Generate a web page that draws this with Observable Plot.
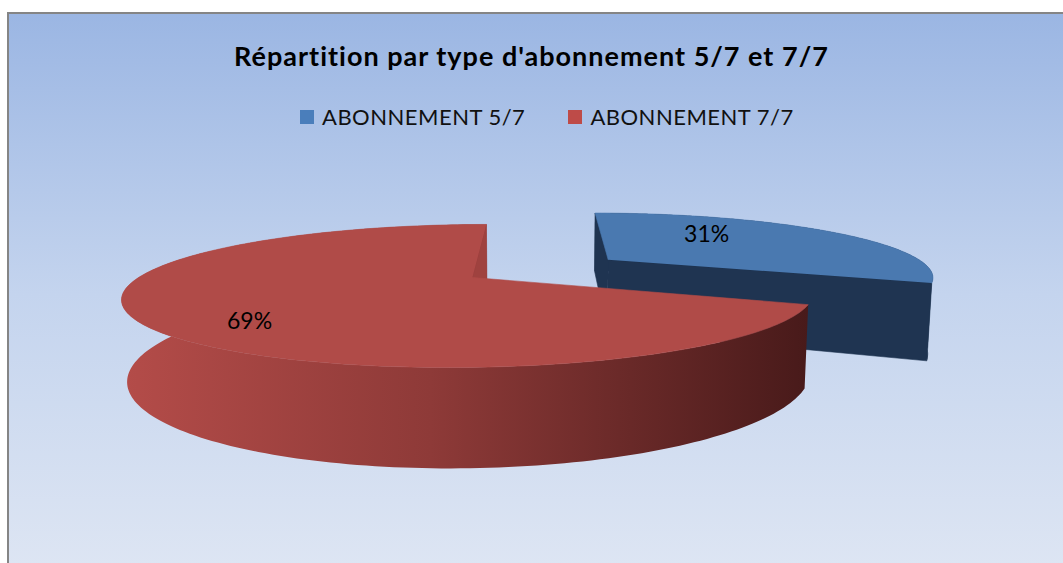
<!DOCTYPE html>
<html>
<head>
<meta charset="utf-8">
<script src="https://cdn.jsdelivr.net/npm/d3@7"></script>
<script src="https://cdn.jsdelivr.net/npm/@observablehq/plot@0.6"></script>
<style>
  html, body { margin: 0; padding: 0; background: #ffffff; width: 1063px; height: 563px; overflow: hidden; }
  #frame { position: absolute; left: 7px; top: 12px; width: 1100px; height: 600px;
    border-left: 2px solid #858585; border-top: 2px solid #858585;
    background: linear-gradient(to bottom, #9bb6e3 0px, #c4d4ee 280px, #dde5f3 551px); }
  #title { position: absolute; left: 0; top: 39px; width: 1063px; text-align: center;
    font-family: Lato, "Open Sans", sans-serif; font-weight: bold; font-size: 27px; letter-spacing: 1px; color: #000; white-space: nowrap; }
  #legend { position: absolute; left: 300px; top: 103px; display: flex; align-items: center;
    font-family: Lato, "Open Sans", sans-serif; font-size: 22px; letter-spacing: 0.5px; color: #111; white-space: nowrap; }
  .item { display: flex; align-items: center; }
  .sw { width: 14px; height: 14px; margin-right: 8px; }
  #plot { position: absolute; left: 0; top: 140px; }
</style>
</head>
<body>
<div id="frame"></div>
<div id="title"></div>
<div id="legend"></div>
<div id="plot"></div>
<script>
// ---- data ----
const title = "Répartition par type d'abonnement 5/7 et 7/7";
const categories = ["ABONNEMENT 5/7", "ABONNEMENT 7/7"];
const values = [31, 69];
const labels = ["31%", "69%"];

// ---- styles ----
const topColors = ["#4a79b0", "#b04b48"];
const sideColors = ["#1f3451", "url(#redSide)"];
const cutColors = ["#1f3451", "#9f423f"];
const legendColors = ["#4a7ebb", "#be4b48"];
const explode = [0.51, 0];
const labelRadius = [0.42, 0.70];
const labelDy = [-12, 15];

// ---- 3D view (perspective) ----
const view = {px: 540, py: 277, f: 1265, D: 3.79, s: 0.2, a: 0.204, h: 0.236};
view.c = Math.sqrt(1 - view.s * view.s);
function project(X, Y, Z) {
  const vy = Y * view.s + Z * view.c;
  const vz = Y * view.c - Z * view.s + view.D;
  return [view.px + view.f * (X - view.a) / vz, view.py - view.f * vy / vz];
}
const camera = [view.a, -view.D * view.c, view.D * view.s];

const total = d3.sum(values);
let acc = 0;
const slices = values.map((v, i) => {
  const t0 = acc / total * 2 * Math.PI; acc += v;
  const t1 = acc / total * 2 * Math.PI;
  const m = (t0 + t1) / 2;
  return {i, t0, t1, m, ox: explode[i] * Math.sin(m), oy: explode[i] * Math.cos(m)};
});
const rim = (s, t, Z) => project(s.ox + Math.sin(t), s.oy + Math.cos(t), Z);
const arc = (s, Z) => d3.range(201).map(k => rim(s, s.t0 + (s.t1 - s.t0) * k / 200, Z));
function cutFace(s, t, sign) {
  const nx = sign * Math.cos(t), ny = -sign * Math.sin(t);
  const vis = nx * (camera[0] - s.ox) + ny * (camera[1] - s.oy) > 0;
  const pts = [project(s.ox, s.oy, 0), rim(s, t, 0), rim(s, t, -view.h), project(s.ox, s.oy, -view.h)];
  return {vis, pts};
}
// far slices first
const order = slices.slice().sort((A, B) => {
  const dA = Math.hypot(A.ox + 0.5 * Math.sin(A.m) - camera[0], A.oy + 0.5 * Math.cos(A.m) - camera[1]);
  const dB = Math.hypot(B.ox + 0.5 * Math.sin(B.m) - camera[0], B.oy + 0.5 * Math.cos(B.m) - camera[1]);
  return dB - dA;
});

const faceMarks = [];
for (const s of order) {
  const side = arc(s, 0).concat(arc(s, -view.h).reverse());
  faceMarks.push(Plot.line(side, {x: d => d[0], y: d => d[1], fill: sideColors[s.i], stroke: "none", curve: "linear"}));
  for (const cf of [cutFace(s, s.t0, -1), cutFace(s, s.t1, 1)]) {
    if (cf.vis) faceMarks.push(Plot.line(cf.pts, {x: d => d[0], y: d => d[1], fill: cutColors[s.i], stroke: cutColors[s.i], strokeWidth: 0.6, curve: "linear"}));
  }
  const top = [project(s.ox, s.oy, 0)].concat(arc(s, 0));
  faceMarks.push(Plot.line(top, {x: d => d[0], y: d => d[1], fill: topColors[s.i], stroke: topColors[s.i], strokeWidth: 0.6, curve: "linear"}));
}

const labelData = slices.map(s => {
  const r = labelRadius[s.i];
  const p = project(s.ox + r * Math.sin(s.m), s.oy + r * Math.cos(s.m), 0);
  return {x: p[0], y: p[1] + labelDy[s.i], text: labels[s.i]};
});

const W = 1063, H = 423, TOP = 140;
const chart = Plot.plot({
  width: W, height: H, margin: 0,
  x: {domain: [0, W], range: [0, W], axis: null},
  y: {domain: [TOP, TOP + H], range: [0, H], axis: null},
  style: {background: "transparent", overflow: "visible"},
  marks: [
    ...faceMarks,
    Plot.text(labelData, {x: "x", y: "y", text: "text", fill: "#000", fontSize: 23, fontFamily: "Lato, 'Open Sans', sans-serif"})
  ]
});
const ns = "http://www.w3.org/2000/svg";
const defs = document.createElementNS(ns, "defs");
const lg = document.createElementNS(ns, "linearGradient");
lg.setAttribute("id", "redSide"); lg.setAttribute("x1", "0"); lg.setAttribute("x2", "1"); lg.setAttribute("y1", "0"); lg.setAttribute("y2", "0");
[["0", "#b44c49"], ["0.45", "#8e3a38"], ["1", "#481a1a"]].forEach(([o, c]) => {
  const st = document.createElementNS(ns, "stop"); st.setAttribute("offset", o); st.setAttribute("stop-color", c); lg.appendChild(st);
});
defs.appendChild(lg);
chart.insertBefore(defs, chart.firstChild);
document.getElementById("plot").appendChild(chart);

document.getElementById("title").textContent = title;
const leg = document.getElementById("legend");
categories.forEach((c, i) => {
  const it = document.createElement("div"); it.className = "item";
  if (i > 0) it.style.marginLeft = "43px";
  const sw = document.createElement("div"); sw.className = "sw"; sw.style.background = legendColors[i];
  const tx = document.createElement("span"); tx.textContent = c;
  it.appendChild(sw); it.appendChild(tx); leg.appendChild(it);
});
</script>
</body>
</html>
